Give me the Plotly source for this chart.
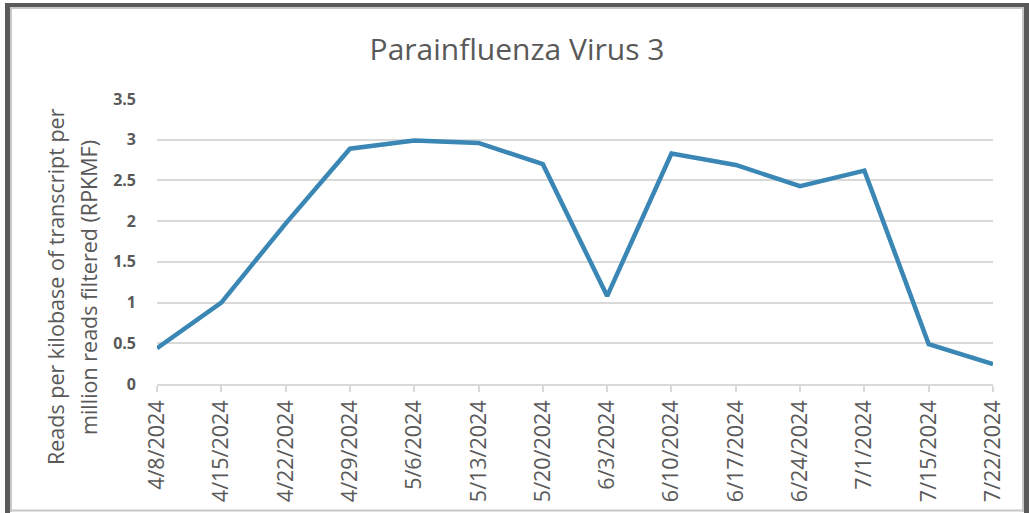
import plotly.graph_objects as go

dates = ["4/8/2024", "4/15/2024", "4/22/2024", "4/29/2024", "5/6/2024", "5/13/2024",
         "5/20/2024", "6/3/2024", "6/10/2024", "6/17/2024", "6/24/2024", "7/1/2024",
         "7/15/2024", "7/22/2024"]
rpkmf = [0.44, 1.0, 1.97, 2.89, 2.99, 2.96, 2.70, 1.08, 2.83, 2.69, 2.43, 2.62, 0.49, 0.245]
y_ticks = [0, 0.5, 1, 1.5, 2, 2.5, 3, 3.5]
y_tick_labels = ["0", "0.5", "1", "1.5", "2", "2.5", "3", "3.5"]
title_text = "Parainfluenza Virus 3"
y_title_lines = ["Reads per kilobase of transcript per", "million reads filtered (RPKMF)"]

W, H = 1029, 513
L, R, T, B = 157, 993, 99, 384
pw, ph = R - L, B - T


def px(x):
    return (x - L) / pw


def py(y):
    return (B - y) / ph


gray = "#595959"
dark = "#5A5A5A"
light = "#C8C8C8"

fig = go.Figure()
fig.add_trace(go.Scatter(
    x=dates, y=rpkmf, mode="lines",
    line=dict(color="#3A86B4", width=4.5),
    showlegend=False, hoverinfo="x+y"))


def hline(y, x0, x1, color, width):
    return dict(type="line", xref="paper", yref="paper", x0=px(x0), x1=px(x1),
                y0=py(y), y1=py(y), line=dict(color=color, width=width), layer="above")


def vline(x, y0, y1, color, width):
    return dict(type="line", xref="paper", yref="paper", x0=px(x), x1=px(x),
                y0=py(y0), y1=py(y1), line=dict(color=color, width=width), layer="above")


shapes = [
    hline(8, 10, 1023, light, 2),
    vline(11, 7, 512, light, 2),
    vline(1023, 7, 512, light, 2),
    hline(510.5, 10, 1023, light, 2),
    hline(5, 5, 1029, dark, 4),
    vline(7.5, 3, 513, dark, 5),
    vline(1026.5, 3, 513, dark, 5),
]

fig.update_layout(
    width=W, height=H,
    margin=dict(l=L, r=W - R, t=T, b=H - B, autoexpand=False),
    paper_bgcolor="white", plot_bgcolor="white",
    font=dict(family="Open Sans", color=gray),
    title=dict(text=title_text, x=517 / W, xref="container",
               xanchor="center", y=1 - 49 / H, yanchor="middle",
               font=dict(family="Open Sans", size=30, color=gray)),
    xaxis=dict(type="category", range=[0, len(dates) - 1], tickangle=-90,
               automargin=False,
               showgrid=False, showline=True, linecolor="#D9D9D9", linewidth=1.5,
               ticks="outside", ticklen=6, tickcolor="#D9D9D9", tickwidth=1.5,
               ticklabelstandoff=0,
               tickfont=dict(family="Open Sans", size=21.5, color=gray)),
    yaxis=dict(range=[0, 3.5], tickvals=y_ticks, ticktext=y_tick_labels,
               automargin=False,
               showgrid=True, gridcolor="#D9D9D9", gridwidth=1.5,
               zeroline=False, showline=False, ticks="", ticklabelstandoff=20,
               tickfont=dict(family="Open Sans", size=16, color=gray, weight="bold")),
    annotations=[
        dict(text=y_title_lines[0], textangle=-90, x=px(55), y=py(287),
             xref="paper", yref="paper", xanchor="center", yanchor="middle",
             showarrow=False, font=dict(family="Open Sans", size=21.5, color=gray)),
        dict(text=y_title_lines[1], textangle=-90, x=px(88), y=py(288),
             xref="paper", yref="paper", xanchor="center", yanchor="middle",
             showarrow=False, font=dict(family="Open Sans", size=21.5, color=gray)),
    ],
    shapes=shapes,
)

fig.write_html("out.html", config={"displayModeBar": False},
               post_script="document.body.style.margin='0';document.body.style.overflow='hidden';")
